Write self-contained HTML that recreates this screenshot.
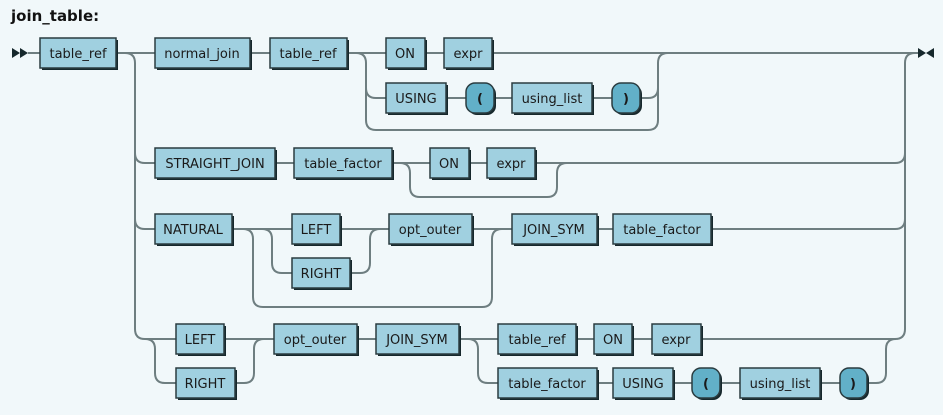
<!DOCTYPE html>
<html><head><meta charset="utf-8"><style>
html,body{margin:0;padding:0;background:#f1f8fa;}
svg{display:block;}
.t{font-family:"DejaVu Sans","Liberation Sans",sans-serif;font-size:13px;fill:#1a1a1a;}
.ln{fill:none;stroke:#6e7e80;stroke-width:2;}
.b{fill:#a0d0e0;stroke:#2a3c40;stroke-width:1.5;}
.p{fill:#62b0c8;stroke:#2a3c40;stroke-width:1.5;}
.s{fill:#16282c;}
</style></head><body>
<svg width="943" height="415" viewBox="0 0 943 415" xmlns="http://www.w3.org/2000/svg">
<text x="11" y="21" style="font-family:'DejaVu Sans','Liberation Sans',sans-serif;font-size:15px;font-weight:bold;fill:#111">join_table:</text>
<!-- start marker -->
<polygon points="12,48 20,53 12,58" fill="#16282c"/><polygon points="20,48 28,53 20,58" fill="#16282c"/>
<!-- end marker -->
<polygon points="918,48 926,53 918,58" fill="#16282c"/><polygon points="934,48 926,53 934,58" fill="#16282c"/>
<g class="ln">
<path d="M28,53H40 M116,53H155 M250,53H270 M347,53H386 M425,53H444 M492,53H918"/>
<path d="M116,53H125Q135,53 135,63V329Q135,339 145,339H176"/>
<path d="M135,153Q135,163 145,163H155 M135,219Q135,229 145,229H155"/>
<path d="M145,339Q155,339 155,349V373Q155,383 165,383H176"/>
<!-- row1 options -->
<path d="M356,53Q366,53 366,63V120Q366,130 376,130H648Q658,130 658,120V63Q658,53 668,53"/>
<path d="M366,88Q366,98 376,98H386 M446,98H466 M494,98H512 M592,98H612 M640,98H648Q658,98 658,88"/>
<!-- row3 -->
<path d="M275,163H294 M392,163H430 M469,163H487 M537,163H895Q905,163 905,153"/>
<path d="M400,163Q410,163 410,173V187Q410,197 420,197H547Q557,197 557,187V173Q557,163 567,163"/>
<!-- row4 -->
<path d="M232,229H292 M340,229H389 M472,229H512 M597,229H613 M711,229H895Q905,229 905,219"/>
<path d="M243,229Q253,229 253,239V297Q253,307 263,307H482Q492,307 492,297V239Q492,229 502,229"/>
<path d="M262,229Q272,229 272,239V263Q272,273 282,273H292 M350,273H360Q370,273 370,263V239Q370,229 380,229"/>
<!-- row5 -->
<path d="M224,339H274 M357,339H376 M459,339H498 M576,339H594 M632,339H652 M701,339H895Q905,339 905,329V63Q905,53 915,53"/>
<path d="M235,383H244Q254,383 254,373V349Q254,339 264,339"/>
<path d="M468,339Q478,339 478,349V373Q478,383 488,383H498 M597,383H613 M673,383H692 M720,383H740 M820,383H840 M867,383H876Q886,383 886,373V349Q886,339 896,339"/>
</g>
<g class="t">
<!-- boxes: shadow, box, text -->
<rect class="s" x="42" y="40" width="76" height="30"/><rect class="b" x="40" y="38" width="76" height="30"/><text x="78" y="58" text-anchor="middle">table_ref</text>
<rect class="s" x="157" y="40" width="95" height="30"/><rect class="b" x="155" y="38" width="95" height="30"/><text x="202" y="58" text-anchor="middle">normal_join</text>
<rect class="s" x="272" y="40" width="77" height="30"/><rect class="b" x="270" y="38" width="77" height="30"/><text x="308" y="58" text-anchor="middle">table_ref</text>
<rect class="s" x="388" y="40" width="39" height="30"/><rect class="b" x="386" y="38" width="39" height="30"/><text x="405" y="58" text-anchor="middle">ON</text>
<rect class="s" x="446" y="40" width="48" height="30"/><rect class="b" x="444" y="38" width="48" height="30"/><text x="468" y="58" text-anchor="middle">expr</text>
<rect class="s" x="388" y="85" width="60" height="30"/><rect class="b" x="386" y="83" width="60" height="30"/><text x="416" y="103" text-anchor="middle">USING</text>
<rect class="s" x="468" y="85" width="28" height="30" rx="9"/><rect class="p" x="466" y="83" width="28" height="30" rx="9"/><text x="480" y="103" text-anchor="middle" font-weight="bold">(</text>
<rect class="s" x="514" y="85" width="80" height="30"/><rect class="b" x="512" y="83" width="80" height="30"/><text x="552" y="103" text-anchor="middle">using_list</text>
<rect class="s" x="614" y="85" width="28" height="30" rx="9"/><rect class="p" x="612" y="83" width="28" height="30" rx="9"/><text x="626" y="103" text-anchor="middle" font-weight="bold">)</text>

<rect class="s" x="157" y="150" width="120" height="30"/><rect class="b" x="155" y="148" width="120" height="30"/><text x="215" y="168" text-anchor="middle">STRAIGHT_JOIN</text>
<rect class="s" x="296" y="150" width="98" height="30"/><rect class="b" x="294" y="148" width="98" height="30"/><text x="343" y="168" text-anchor="middle">table_factor</text>
<rect class="s" x="432" y="150" width="39" height="30"/><rect class="b" x="430" y="148" width="39" height="30"/><text x="449" y="168" text-anchor="middle">ON</text>
<rect class="s" x="489" y="150" width="48" height="30"/><rect class="b" x="487" y="148" width="48" height="30"/><text x="511" y="168" text-anchor="middle">expr</text>

<rect class="s" x="157" y="216" width="77" height="30"/><rect class="b" x="155" y="214" width="77" height="30"/><text x="193" y="234" text-anchor="middle">NATURAL</text>
<rect class="s" x="294" y="216" width="48" height="30"/><rect class="b" x="292" y="214" width="48" height="30"/><text x="316" y="234" text-anchor="middle">LEFT</text>
<rect class="s" x="294" y="260" width="58" height="30"/><rect class="b" x="292" y="258" width="58" height="30"/><text x="321" y="278" text-anchor="middle">RIGHT</text>
<rect class="s" x="391" y="216" width="83" height="30"/><rect class="b" x="389" y="214" width="83" height="30"/><text x="430" y="234" text-anchor="middle">opt_outer</text>
<rect class="s" x="514" y="216" width="85" height="30"/><rect class="b" x="512" y="214" width="85" height="30"/><text x="554" y="234" text-anchor="middle">JOIN_SYM</text>
<rect class="s" x="615" y="216" width="98" height="30"/><rect class="b" x="613" y="214" width="98" height="30"/><text x="662" y="234" text-anchor="middle">table_factor</text>

<rect class="s" x="178" y="326" width="48" height="30"/><rect class="b" x="176" y="324" width="48" height="30"/><text x="200" y="344" text-anchor="middle">LEFT</text>
<rect class="s" x="178" y="370" width="59" height="30"/><rect class="b" x="176" y="368" width="59" height="30"/><text x="205" y="388" text-anchor="middle">RIGHT</text>
<rect class="s" x="276" y="326" width="83" height="30"/><rect class="b" x="274" y="324" width="83" height="30"/><text x="315" y="344" text-anchor="middle">opt_outer</text>
<rect class="s" x="378" y="326" width="83" height="30"/><rect class="b" x="376" y="324" width="83" height="30"/><text x="417" y="344" text-anchor="middle">JOIN_SYM</text>
<rect class="s" x="500" y="326" width="78" height="30"/><rect class="b" x="498" y="324" width="78" height="30"/><text x="537" y="344" text-anchor="middle">table_ref</text>
<rect class="s" x="596" y="326" width="38" height="30"/><rect class="b" x="594" y="324" width="38" height="30"/><text x="613" y="344" text-anchor="middle">ON</text>
<rect class="s" x="654" y="326" width="49" height="30"/><rect class="b" x="652" y="324" width="49" height="30"/><text x="676" y="344" text-anchor="middle">expr</text>
<rect class="s" x="500" y="370" width="99" height="30"/><rect class="b" x="498" y="368" width="99" height="30"/><text x="547" y="388" text-anchor="middle">table_factor</text>
<rect class="s" x="615" y="370" width="60" height="30"/><rect class="b" x="613" y="368" width="60" height="30"/><text x="643" y="388" text-anchor="middle">USING</text>
<rect class="s" x="694" y="370" width="28" height="30" rx="9"/><rect class="p" x="692" y="368" width="28" height="30" rx="9"/><text x="706" y="388" text-anchor="middle" font-weight="bold">(</text>
<rect class="s" x="742" y="370" width="80" height="30"/><rect class="b" x="740" y="368" width="80" height="30"/><text x="780" y="388" text-anchor="middle">using_list</text>
<rect class="s" x="842" y="370" width="27" height="30" rx="9"/><rect class="p" x="840" y="368" width="27" height="30" rx="9"/><text x="853" y="388" text-anchor="middle" font-weight="bold">)</text>
</g>
</svg>
</body></html>
